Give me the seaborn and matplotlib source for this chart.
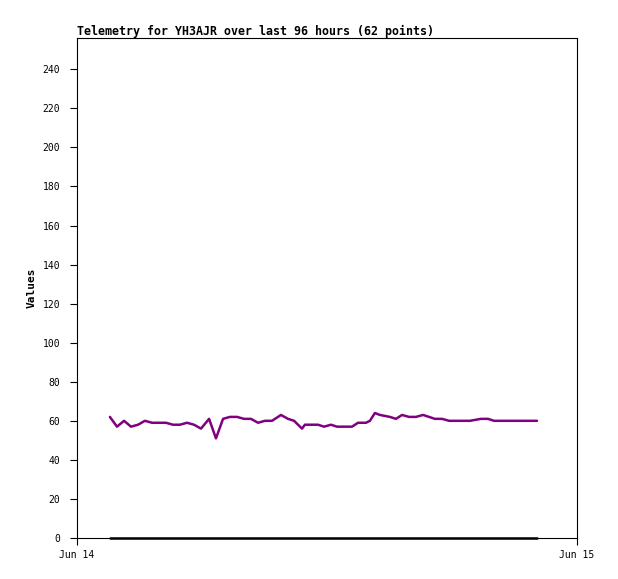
import pandas as pd
import numpy as np
import matplotlib
matplotlib.use('Agg')
import matplotlib.pyplot as plt
import matplotlib.dates as mdates
import seaborn as sns

sns.set_style('white')
plt.rcParams['font.family'] = ['DejaVu Sans Mono']
plt.rcParams['text.color'] = 'black'
plt.rcParams['axes.labelcolor'] = 'black'
plt.rcParams['xtick.color'] = 'black'
plt.rcParams['ytick.color'] = 'black'

# hours after Jun 14 00:00
hours = [1.58, 1.92, 2.26, 2.59, 2.93, 3.26, 3.60, 3.94, 4.27, 4.61,
         4.94, 5.28, 5.62, 5.95, 6.34, 6.67, 7.01, 7.34, 7.68, 8.02,
         8.35, 8.69, 9.02, 9.36, 9.79, 10.13, 10.42, 10.80, 10.94, 11.28,
         11.57, 11.86, 12.19, 12.48, 12.82, 13.20, 13.49, 13.87, 14.06, 14.30,
         14.54, 15.02, 15.31, 15.60, 15.94, 16.27, 16.61, 16.90, 17.18, 17.52,
         17.86, 18.19, 18.53, 18.86, 19.39, 19.73, 20.02, 20.35, 21.07, 21.41,
         21.74, 22.08]
values = [62, 57, 60, 57, 58, 60, 59, 59, 59, 58,
          58, 59, 58, 56, 61, 51, 61, 62, 62, 61,
          61, 59, 60, 60, 63, 61, 60, 56, 58, 58,
          58, 57, 58, 57, 57, 57, 59, 59, 60, 64,
          63, 62, 61, 63, 62, 62, 63, 62, 61, 61,
          60, 60, 60, 60, 61, 61, 60, 60, 60, 60,
          60, 60]
zeros = [0] * len(hours)

start = pd.Timestamp('2024-06-14')
df = pd.DataFrame({
    'time': start + pd.to_timedelta(hours, unit='h'),
    'value': values,
    'zero': zeros,
})

fig = plt.figure(figsize=(6.18, 5.79), dpi=100)
ax = fig.add_axes([77 / 618, 41 / 579, 500 / 618, 500 / 579])

sns.lineplot(data=df, x='time', y='zero', ax=ax, color='black', linewidth=1.8)
sns.lineplot(data=df, x='time', y='value', ax=ax, color='#800080', linewidth=1.8)
ax.lines[0].set_clip_on(False)

ax.set_xlim(start, start + pd.Timedelta(days=1))
ax.set_ylim(0, 256)
ax.set_yticks(range(0, 241, 20))
ax.xaxis.set_major_locator(mdates.DayLocator())
ax.xaxis.set_major_formatter(mdates.DateFormatter('%b %d'))

for s in ax.spines.values():
    s.set_color('black')
    s.set_linewidth(0.8)
ax.tick_params(axis='both', direction='out', length=5, width=0.8, color='black',
               labelsize=7, left=True, bottom=True)
ax.tick_params(axis='y', pad=7)
ax.tick_params(axis='x', pad=4)

ax.set_xlabel('')
ax.set_ylabel('Values', fontsize=8, fontweight='bold', labelpad=4)
fig.text(77 / 618, 1 - 31 / 579, 'Telemetry for YH3AJR over last 96 hours (62 points)',
         fontsize=8.4, fontweight='bold', va='center', ha='left')

fig.savefig('out.png', dpi=100)
